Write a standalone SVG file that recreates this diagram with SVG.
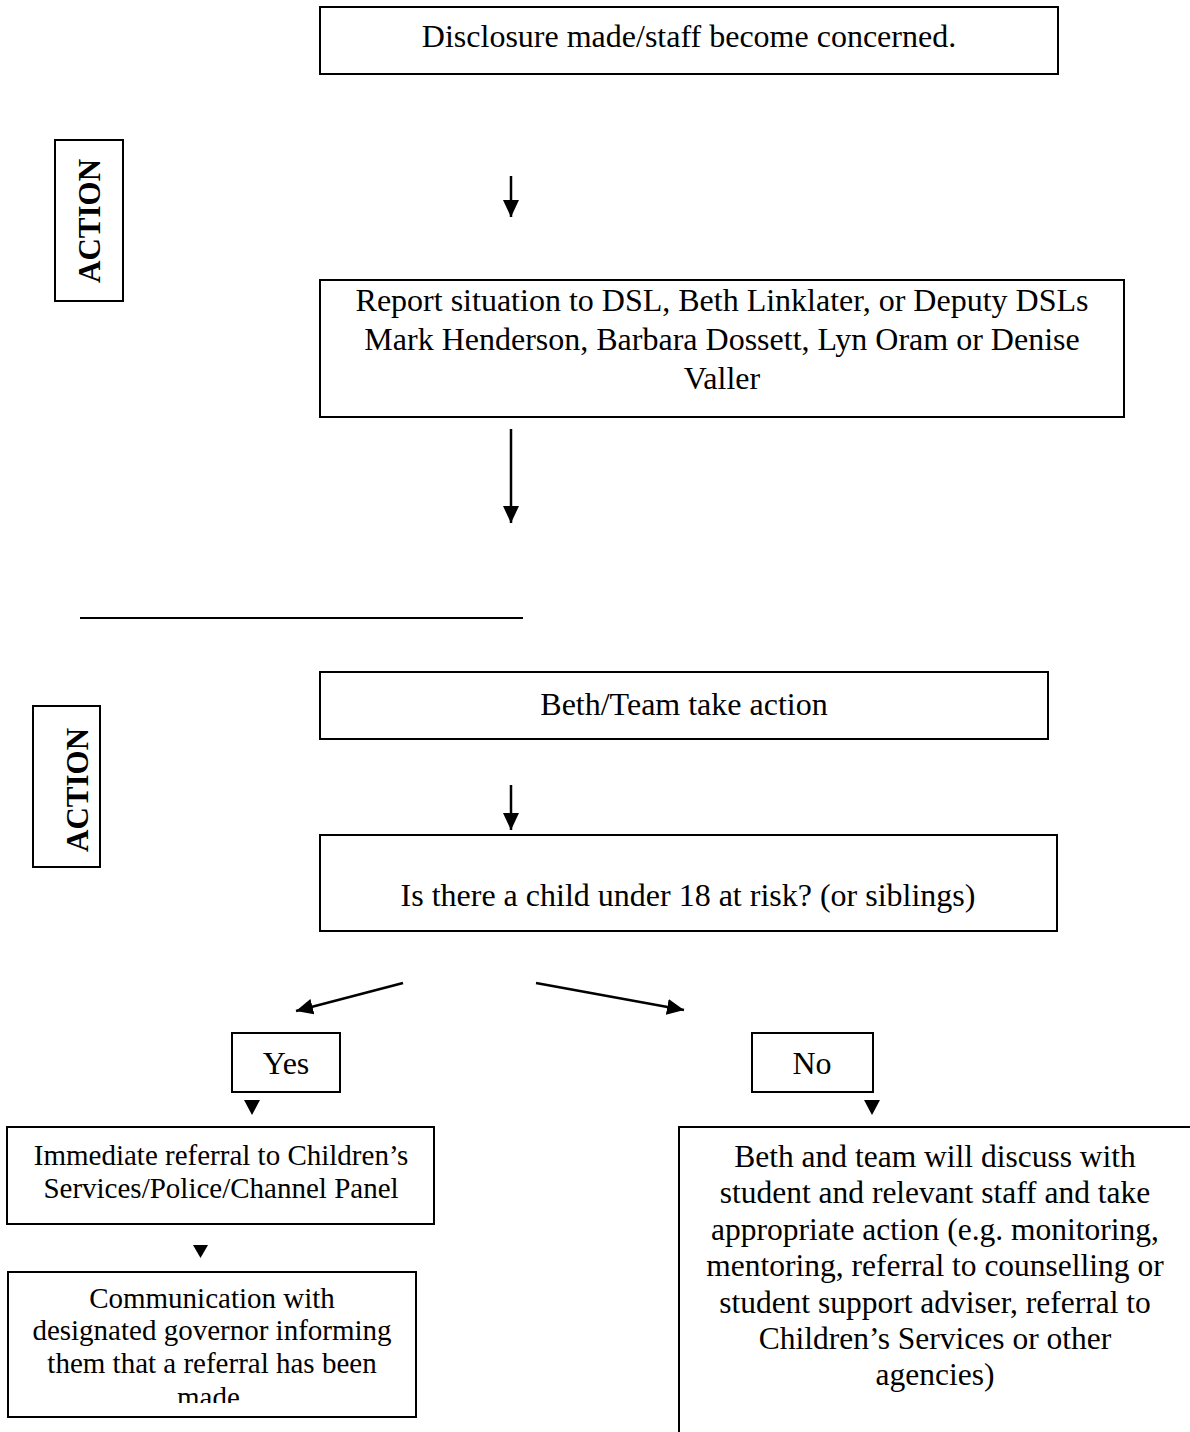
<svg xmlns="http://www.w3.org/2000/svg" width="1190" height="1432" viewBox="0 0 1190 1432">
<style>
.box{fill:#fff;stroke:#000;stroke-width:2}
.t{font-family:"Liberation Serif","Times New Roman",serif;font-size:32px;fill:#000;text-anchor:middle}
.s{font-size:29px}
.m{font-size:31.5px}
.act{font-family:"Liberation Serif","Times New Roman",serif;font-size:31px;font-weight:bold;fill:#000;text-anchor:middle}
.ln{stroke:#000;stroke-width:2.5;fill:none}
.tri{fill:#000}
</style>
<defs>
<marker id="ah" markerUnits="userSpaceOnUse" markerWidth="18" markerHeight="16" refX="17" refY="8" orient="auto">
<path d="M0,0 L17,8 L0,16 z" fill="#000"/>
</marker>
<clipPath id="clipComm"><rect x="0" y="1270" width="440" height="133"/></clipPath>
</defs>

<g id="action1">
<rect class="box" x="55" y="140" width="68" height="161"/>
<text class="act" transform="translate(100,221) rotate(-90)">ACTION</text>
</g>
<g id="action2">
<rect class="box" x="33" y="706" width="67" height="161"/>
<text class="act" transform="translate(88,790) rotate(-90)">ACTION</text>
</g>

<g id="n1">
<rect class="box" x="320" y="7" width="738" height="67"/>
<text class="t" x="689" y="47">Disclosure made/staff become concerned.</text>
</g>
<g id="n2">
<rect class="box" x="320" y="280" width="804" height="137"/>
<text class="t" x="722" y="311">Report situation to DSL, Beth Linklater, or Deputy DSLs</text>
<text class="t" x="722" y="350">Mark Henderson, Barbara Dossett, Lyn Oram or Denise</text>
<text class="t" x="722" y="389">Valler</text>
</g>
<g id="divider">
<line x1="80" y1="618" x2="523" y2="618" stroke="#000" stroke-width="2"/>
</g>
<g id="n3">
<rect class="box" x="320" y="672" width="728" height="67"/>
<text class="t" x="684" y="715">Beth/Team take action</text>
</g>
<g id="n4">
<rect class="box" x="320" y="835" width="737" height="96"/>
<text class="t" x="688" y="906">Is there a child under 18 at risk? (or siblings)</text>
</g>
<g id="yes">
<rect class="box" x="232" y="1033" width="108" height="59"/>
<text class="t" x="286" y="1074">Yes</text>
</g>
<g id="no">
<rect class="box" x="752" y="1033" width="121" height="59"/>
<text class="t" x="812" y="1074">No</text>
</g>
<g id="referral">
<rect class="box" x="7" y="1127" width="427" height="97"/>
<text class="t s" x="221" y="1165">Immediate referral to Children’s</text>
<text class="t s" x="221" y="1198">Services/Police/Channel Panel</text>
</g>
<g id="communication">
<rect class="box" x="8" y="1272" width="408" height="145"/>
<g clip-path="url(#clipComm)">
<text class="t s" x="212" y="1308">Communication with</text>
<text class="t s" x="212" y="1340">designated governor informing</text>
<text class="t s" x="212" y="1373">them that a referral has been</text>
<text class="t s" x="212" y="1407">made.</text>
</g>
</g>
<g id="discuss">
<rect class="box" x="679" y="1127" width="540" height="340"/>
<text class="t m" x="935" y="1167">Beth and team will discuss with</text>
<text class="t m" x="935" y="1203">student and relevant staff and take</text>
<text class="t m" x="935" y="1240">appropriate action (e.g. monitoring,</text>
<text class="t m" x="935" y="1276">mentoring, referral to counselling or</text>
<text class="t m" x="935" y="1313">student support adviser, referral to</text>
<text class="t m" x="935" y="1349">Children’s Services or other</text>
<text class="t m" x="935" y="1385">agencies)</text>
</g>

<g id="connectors">
<line class="ln" x1="511" y1="176" x2="511" y2="217" marker-end="url(#ah)"/>
<line class="ln" x1="511" y1="429" x2="511" y2="523" marker-end="url(#ah)"/>
<line class="ln" x1="511" y1="785" x2="511" y2="830" marker-end="url(#ah)"/>
<line class="ln" x1="403" y1="983" x2="296" y2="1011" marker-end="url(#ah)"/>
<line class="ln" x1="536" y1="983" x2="684" y2="1010" marker-end="url(#ah)"/>
<polygon class="tri" points="244,1100 260,1100 252,1115"/>
<polygon class="tri" points="864,1100 880,1100 872,1115"/>
<polygon class="tri" points="193,1245 208,1245 200.5,1258"/>
</g>
</svg>
